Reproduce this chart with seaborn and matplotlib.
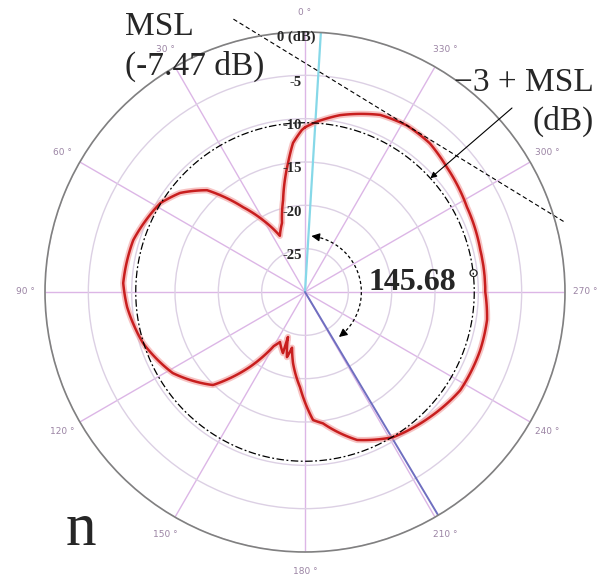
import numpy as np
import pandas as pd
import matplotlib
matplotlib.use("Agg")
import matplotlib.pyplot as plt
import seaborn as sns

# Measured radiation pattern (angle in degrees, level in dB)
pattern_angle_deg = [0.0, 1.1, 4.6, 7.5, 13.4, 18.4, 24.1, 30.3, 36.1, 43.9, 51.6, 58.5,
                     73.2, 87.2, 94.8, 107.5, 121.5, 135.3, 143.7, 150.0, 153.4, 160.2,
                     159.3, 164.5, 166.9, 170.4, 177.0, 183.6, 187.8, 199.4, 211.3, 225.0,
                     237.7, 251.7, 261.3, 270.0, 283.5, 297.7, 311.4, 320.0, 328.5, 337.0,
                     348.8, 356.0, 360.0]
pattern_db = [-11.0, -11.3, -12.75, -15.0, -19.1, -21.6, -22.9, -20.4, -17.9, -13.7, -11.6, -10.4,
              -9.3, -9.0, -9.4, -10.4, -12.1, -14.9, -19.3, -22.8, -23.55, -22.5,
              -24.45, -22.2, -23.4, -21.7, -19.0, -15.2, -14.7, -11.9, -10.4, -9.6,
              -8.8, -8.7, -8.75, -9.2, -9.2, -8.9, -8.2, -7.6, -7.47, -7.8,
              -9.2, -10.3, -11.0]

msl_db = -7.47            # maximum signal level
msl_angle_deg = 328.5     # direction of the maximum
reference_angle_deg = 356.5
beam_offset_deg = 145.68

r_ticks = [-25, -20, -15, -10, -5, 0]
r_tick_labels = ["-25", "-20", "-15", "-10", "-5", "0 (dB)"]
theta_ticks_deg = list(range(0, 360, 30))
theta_tick_labels = [f"{a} \u00b0" for a in theta_ticks_deg]

W, H = 612, 579
sns.set_style("white")
plt.rcParams["font.family"] = ["DejaVu Sans"]
serif = ["Liberation Serif", "DejaVu Serif"]

fig = plt.figure(figsize=(W / 100, H / 100), dpi=100)
ax = fig.add_axes([45 / W, 27 / H, 520 / W, 520 / H], projection="polar")
ax.set_theta_zero_location("N")
ax.set_theta_direction(1)
ax.set_ylim(-30, 0)

# grid
ax.set_yticks(r_ticks)
ax.set_yticklabels([])
ax.set_xticks(np.deg2rad(theta_ticks_deg))
ax.set_xticklabels([])
ax.xaxis.grid(True, color="#dcb6e6", lw=1.0)
ax.yaxis.grid(True, color="#dcd0e4", lw=1.0)
ax.spines["polar"].set_color("#808080")
ax.spines["polar"].set_linewidth(1.2)

# angle labels around the rim
for a, lbl in zip(theta_ticks_deg, theta_tick_labels):
    ax.text(np.deg2rad(a), 2.3, lbl, ha="center", va="center", fontsize=6.5,
            color="#9b84a4", clip_on=False)

# radial labels next to the 0° spoke
for v, lbl in zip(r_ticks, r_tick_labels):
    if v == 0:
        ax.annotate(lbl, xy=(0, v), xytext=(-28, -5), textcoords="offset pixels",
                    ha="left", va="center", fontsize=10.5, fontweight="bold", family=serif)
    else:
        ax.annotate(lbl, xy=(0, v), xytext=(-3, -7), textcoords="offset pixels",
                    ha="right", va="center", fontsize=10.5, fontweight="bold", family=serif)

# reference and beam direction lines
beam_angle_deg = reference_angle_deg - beam_offset_deg
ax.plot(np.deg2rad([reference_angle_deg] * 2), [-30, 0], color="#86d8e8", lw=1.6)
ax.plot(np.deg2rad([beam_angle_deg] * 2), [-30, 0], color="#6f6fc0", lw=1.4)

# pattern, drawn as arcs between samples (polar path interpolation)
df = pd.DataFrame({"theta": np.deg2rad(pattern_angle_deg), "level": pattern_db})
n_before = len(ax.lines)
sns.lineplot(data=df, x="theta", y="level", ax=ax, sort=False, estimator=None,
             color="#f29c9c", lw=4.5, alpha=0.6)
sns.lineplot(data=df, x="theta", y="level", ax=ax, sort=False, estimator=None,
             color="#c81e1e", lw=1.8)
for ln in ax.lines[n_before:]:
    ln.get_path()._interpolation_steps = 40
    ln.set_solid_joinstyle("round")
ax.set_xlabel("")
ax.set_ylabel("")

# -3 dB circle below MSL
th = np.linspace(0, 2 * np.pi, 400)
ax.plot(th, np.full_like(th, msl_db - 3), color="black", lw=0.9,
        linestyle=(0, (6, 2, 1.5, 2)))

# tangent line at the maximum
phi = np.deg2rad(msl_angle_deg - 360)
tt = np.linspace(phi + np.deg2rad(46.2), phi - np.deg2rad(43.4), 300)
ax.plot(tt, (msl_db + 30) / np.cos(tt - phi) - 30, color="black", lw=0.8,
        linestyle=(0, (4, 2.5)), clip_on=False)

# dashed arc with arrows showing the offset angle
arc_r = -23.5
ta = np.deg2rad(np.linspace(350, 220, 100))
ax.plot(ta, np.full_like(ta, arc_r), color="black", lw=0.9, linestyle=(0, (2.5, 2)))
for tip, tail in [(353.5, 349.0), (217.0, 221.0)]:
    ax.annotate("", xy=(np.deg2rad(tip), arc_r), xytext=(np.deg2rad(tail), arc_r),
                arrowprops=dict(arrowstyle="-|>", color="black", lw=0.9,
                                mutation_scale=12, shrinkA=0, shrinkB=0))

# text annotations
def fx(x):
    return x / W


def fy(y):
    return 1 - y / H


fig.text(fx(125), fy(27), "MSL", ha="left", va="center", fontsize=24, family=serif)
fig.text(fx(125), fy(66), "(-7.47 dB)", ha="left", va="center", fontsize=24, family=serif)
fig.text(fx(594), fy(83), "\u22123 + MSL", ha="right", va="center", fontsize=24, family=serif)
fig.text(fx(594), fy(121), "(dB)", ha="right", va="center", fontsize=24, family=serif)
ax.annotate("", xy=(np.deg2rad(312.2), msl_db - 3), xytext=(512, H - 108),
            textcoords="figure pixels",
            arrowprops=dict(arrowstyle="-|>", color="black", lw=0.8,
                            mutation_scale=9, shrinkA=0, shrinkB=0))
fig.text(fx(412), fy(283), f"{beam_offset_deg:.2f}", ha="center", va="center",
         fontsize=23, fontweight="bold", family=serif)
fig.text(fx(473), fy(281), "\u00b0", ha="center", va="center",
         fontsize=20, family=serif)
fig.text(fx(81), fy(530), "n", ha="center", va="center", fontsize=44, family=serif)

fig.savefig("out.png", dpi=100, facecolor="white")
